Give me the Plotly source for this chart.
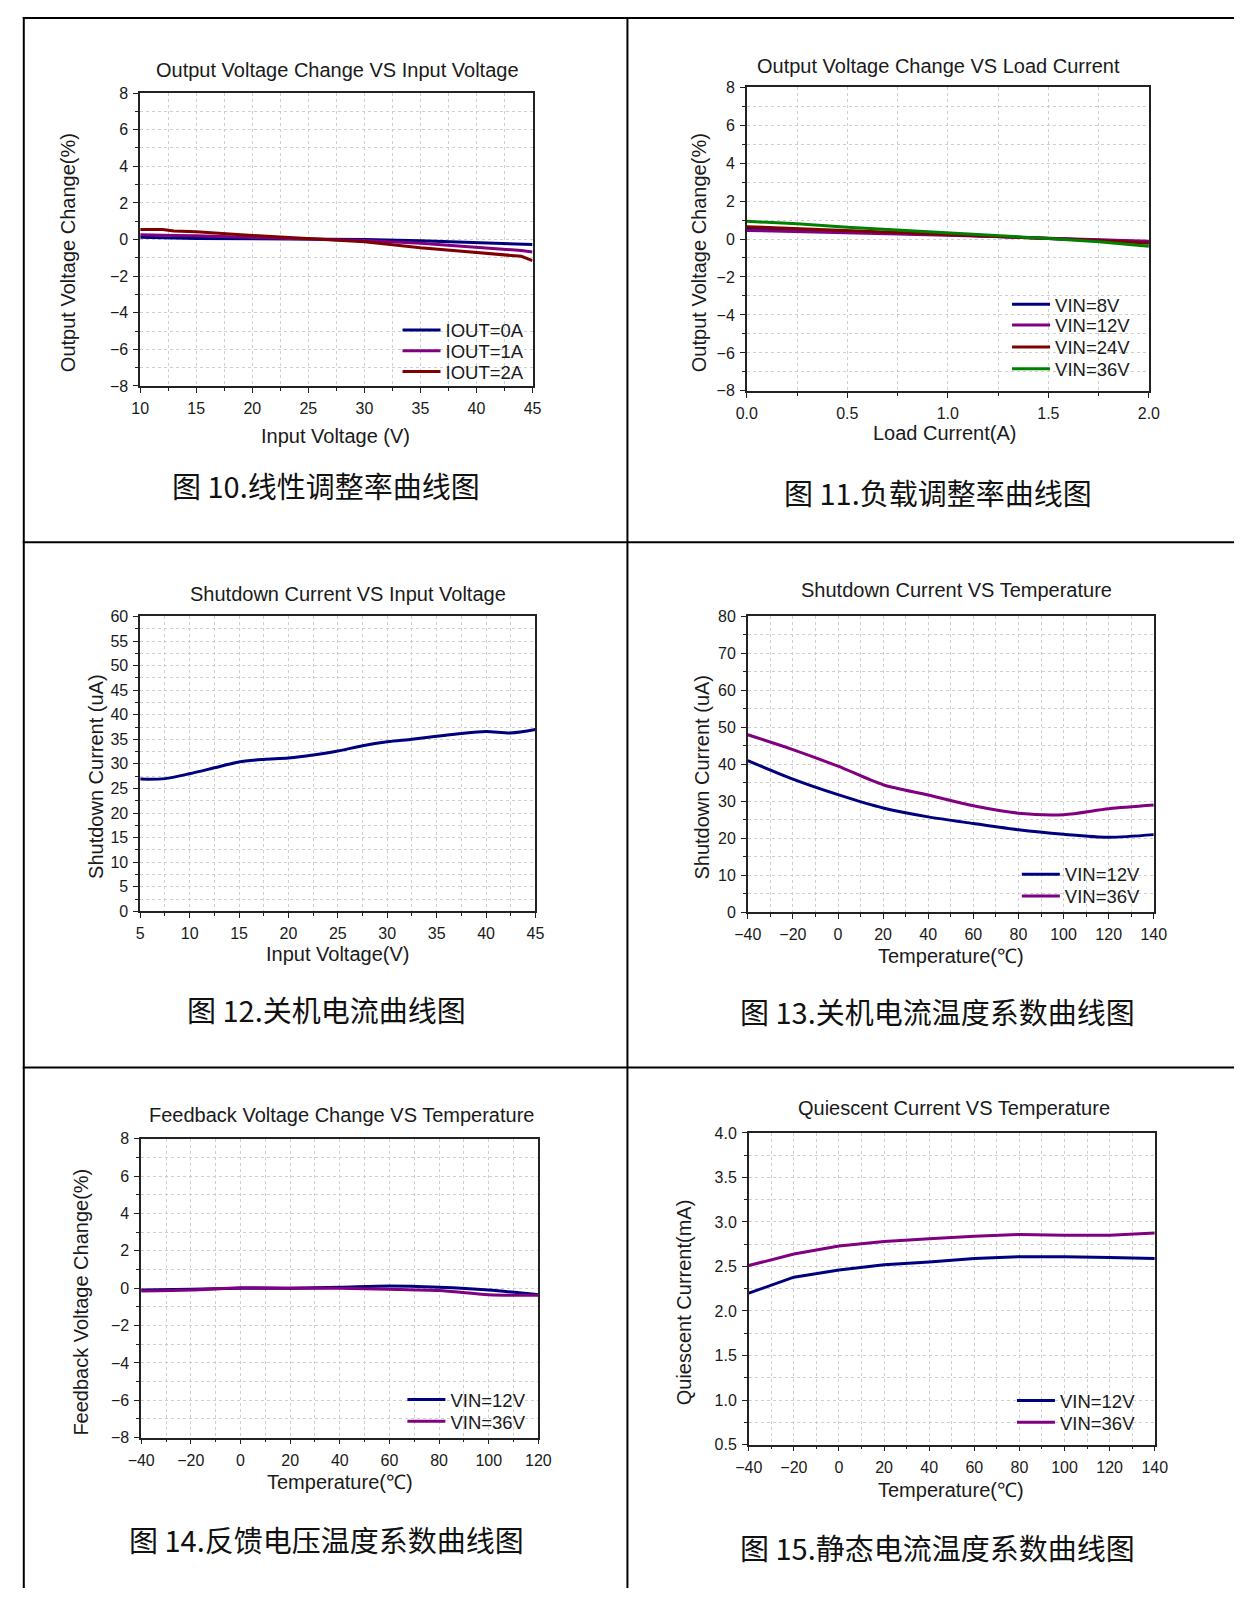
import plotly.graph_objects as go

W, H = 1248, 1598

# ---------------- data ----------------
# Fig 10: Output voltage change vs input voltage
lr_vin = [10, 11, 12, 13, 15, 20, 25, 30, 35, 40, 44, 45]
lr_iout0 = [0.12, 0.12, 0.10, 0.08, 0.06, 0.05, 0.03, 0.00, -0.07, -0.16, -0.24, -0.27]
lr_iout1 = [0.26, 0.26, 0.25, 0.22, 0.20, 0.13, 0.05, -0.05, -0.20, -0.40, -0.60, -0.68]
lr_iout2 = [0.55, 0.56, 0.55, 0.47, 0.42, 0.22, 0.05, -0.12, -0.45, -0.72, -0.92, -1.15]

# Fig 11: Output voltage change vs load current
ld_iout = [0.0, 0.25, 0.5, 0.75, 1.0, 1.25, 1.5, 1.75, 2.0]
ld_vin8 = [0.55, 0.48, 0.40, 0.31, 0.22, 0.13, 0.04, -0.06, -0.16]
ld_vin12 = [0.45, 0.40, 0.33, 0.27, 0.20, 0.12, 0.03, -0.05, -0.12]
ld_vin24 = [0.65, 0.55, 0.45, 0.35, 0.25, 0.15, 0.05, -0.08, -0.22]
ld_vin36 = [0.93, 0.80, 0.62, 0.48, 0.33, 0.18, 0.03, -0.15, -0.38]

# Fig 12: Shutdown current vs input voltage
sd_vin = [5, 7.5, 10, 12.5, 15, 17.5, 20, 22.5, 25, 27.5, 30, 32.5, 35, 37.5, 40, 42.5, 45]
sd_cur = [26.9, 27.0, 28.0, 29.2, 30.4, 30.9, 31.2, 31.8, 32.6, 33.7, 34.5, 35.0, 35.6, 36.2, 36.6, 36.3, 37.0]

# Fig 13: Shutdown current vs temperature
st_temp = [-40, -20, 0, 20, 40, 60, 80, 100, 120, 140]
st_vin12 = [41.0, 36.0, 31.8, 28.2, 25.8, 24.0, 22.3, 21.1, 20.3, 21.0]
st_vin36 = [48.0, 44.0, 39.5, 34.5, 31.7, 28.8, 26.8, 26.4, 28.0, 29.0]

# Fig 14: Feedback voltage change vs temperature
fb_temp = [-40, -20, 0, 20, 40, 60, 80, 100, 120]
fb_vin12 = [-0.10, -0.05, 0.00, 0.00, 0.05, 0.12, 0.05, -0.10, -0.35]
fb_vin36 = [-0.15, -0.10, 0.02, 0.00, 0.00, -0.05, -0.12, -0.35, -0.38]

# Fig 15: Quiescent current vs temperature
q_temp = [-40, -20, 0, 20, 40, 60, 80, 100, 120, 140]
q_vin12 = [2.20, 2.38, 2.46, 2.52, 2.55, 2.59, 2.61, 2.61, 2.60, 2.59]
q_vin36 = [2.51, 2.64, 2.73, 2.78, 2.81, 2.84, 2.86, 2.85, 2.85, 2.875]

# text
titles = ["Output Voltage Change VS Input Voltage", "Output Voltage Change VS Load Current",
          "Shutdown Current VS Input Voltage", "Shutdown Current VS Temperature",
          "Feedback Voltage Change VS Temperature", "Quiescent Current VS Temperature"]
xtitles = ["Input Voltage (V)", "Load Current(A)", "Input Voltage(V)",
           "Temperature(℃)", "Temperature(℃)", "Temperature(℃)"]
ytitles = ["Output Voltage Change(%)", "Output Voltage Change(%)", "Shutdown Current (uA)",
           "Shutdown Current (uA)", "Feedback Voltage Change(%)", "Quiescent Current(mA)"]
captions = ["图 10.线性调整率曲线图", "图 11.负载调整率曲线图", "图 12.关机电流曲线图",
            "图 13.关机电流温度系数曲线图", "图 14.反馈电压温度系数曲线图", "图 15.静态电流温度系数曲线图"]

NAVY, PURPLE, DRED, GREEN = "#00007f", "#800080", "#7f0000", "#008000"
LATIN = "Liberation Sans, Arial, sans-serif"
CJK = "Noto Sans CJK SC"
TXT = "#1a1a1a"

def px(x):
    return x / W

def py(y):
    return 1 - y / H

# plot areas in pixels: (x0, x1, y0(top), y1(bottom))
boxes = [(129, 530, 86, 382), (749, 1160, 80, 387), (129, 533, 615, 913),
         (750, 1165, 615, 914), (130, 536, 1143, 1445), (751, 1166, 1137, 1452)]

xcfg = [dict(range=[10, 45], dtick=5, minor=2.5, fmt=None),
        dict(range=[0, 2], dtick=0.5, minor=0.25, fmt=".1f"),
        dict(range=[5, 45], dtick=5, minor=2.5, fmt=None),
        dict(range=[-40, 140], dtick=20, minor=10, fmt=None),
        dict(range=[-40, 120], dtick=20, minor=10, fmt=None),
        dict(range=[-40, 140], dtick=20, minor=10, fmt=None)]
ycfg = [dict(range=[-8, 8], dtick=2, minor=1, fmt=None),
        dict(range=[-8, 8], dtick=2, minor=1, fmt=None),
        dict(range=[0, 60], dtick=5, minor=2.5, fmt=None),
        dict(range=[0, 80], dtick=10, minor=5, fmt=None),
        dict(range=[-8, 8], dtick=2, minor=1, fmt=None),
        dict(range=[0.5, 4.0], dtick=0.5, minor=0.25, fmt=".1f")]

fig = go.Figure()

# legend item positions: (line start x px, row center y px)
legend_rows = []

def add(i, x, y, name, color, row=None, shape="linear"):
    leg = None
    if row is not None:
        legend_rows.append(row)
        n = len(legend_rows)
        leg = "legend" if n == 1 else f"legend{n}"
    fig.add_trace(go.Scatter(
        x=x, y=y, name=name, mode="lines",
        line=dict(color=color, width=3, shape=shape, smoothing=0.8),
        xaxis="x" if i == 0 else f"x{i+1}", yaxis="y" if i == 0 else f"y{i+1}",
        showlegend=leg is not None, legend=leg if leg else "legend"))

add(0, lr_vin, lr_iout0, "IOUT=0A", NAVY, (400, 326))
add(0, lr_vin, lr_iout1, "IOUT=1A", PURPLE, (400, 347))
add(0, lr_vin, lr_iout2, "IOUT=2A", DRED, (400, 368))

add(1, ld_iout, ld_vin8, "VIN=8V", NAVY, (1023, 300))
add(1, ld_iout, ld_vin12, "VIN=12V", PURPLE, (1023, 321))
add(1, ld_iout, ld_vin24, "VIN=24V", DRED, (1023, 343))
add(1, ld_iout, ld_vin36, "VIN=36V", GREEN, (1023, 365))

add(2, sd_vin, sd_cur, "Shutdown", NAVY, None, "spline")

add(3, st_temp, st_vin12, "VIN=12V", NAVY, (1033, 876), "spline")
add(3, st_temp, st_vin36, "VIN=36V", PURPLE, (1033, 898), "spline")

add(4, fb_temp, fb_vin12, "VIN=12V", NAVY, (405, 1407), "spline")
add(4, fb_temp, fb_vin36, "VIN=36V", PURPLE, (405, 1429), "spline")

add(5, q_temp, q_vin12, "VIN=12V", NAVY, (1028, 1408))
add(5, q_temp, q_vin36, "VIN=36V", PURPLE, (1028, 1430))

layout = dict(
    width=W, height=H, margin=dict(l=0, r=0, t=0, b=0),
    paper_bgcolor="white", plot_bgcolor="white",
    font=dict(family=LATIN, color=TXT, size=16),
)

def axis_common(cfg):
    d = dict(range=cfg["range"], dtick=cfg["dtick"], tick0=cfg["range"][0],
             showline=True, linecolor="#222", linewidth=1.5, mirror=True,
             ticks="outside", ticklen=5, tickwidth=1, tickcolor="#222",
             showgrid=True, gridcolor="#cfcfcf", griddash="dot", gridwidth=1,
             zeroline=False, tickfont=dict(size=16, color=TXT, family=LATIN),
             minor=dict(dtick=cfg["minor"], ticks="outside", ticklen=3, tickcolor="#222",
                        showgrid=True, gridcolor="#cfcfcf", griddash="dot", gridwidth=1),
             fixedrange=True)
    if cfg["fmt"]:
        d["tickformat"] = cfg["fmt"]
    return d

for i, (x0, x1, y0, y1) in enumerate(boxes):
    xa = axis_common(xcfg[i])
    xa.update(domain=[px(x0), px(x1)], anchor="y" if i == 0 else f"y{i+1}", ticklabelstandoff=2)
    ya = axis_common(ycfg[i])
    ya.update(domain=[py(y1), py(y0)], anchor="x" if i == 0 else f"x{i+1}", ticklabelstandoff=2)
    layout["xaxis" if i == 0 else f"xaxis{i+1}"] = xa
    layout["yaxis" if i == 0 else f"yaxis{i+1}"] = ya

for n, (lx, ly) in enumerate(legend_rows, start=1):
    key = "legend" if n == 1 else f"legend{n}"
    layout[key] = dict(x=px(lx - 8), y=py(ly), xanchor="left", yanchor="middle",
                       bgcolor="rgba(0,0,0,0)", borderwidth=0, tracegroupgap=0,
                       font=dict(size=18.5, family=LATIN, color=TXT), itemwidth=38)

fig.update_layout(**layout)

ann = []
title_pos = [(331, 63), (945, 59), (341, 592), (963, 588), (335, 1119), (961, 1112)]
xt_pos = [(329, 433), (951, 430), (331, 956), (958, 958), (333, 1490), (958, 1498)]
yt_pos = [(56, 247), (701, 247), (84, 777), (703, 777), (69, 1308), (685, 1308)]
cap_pos = [(319, 482), (944, 489), (319, 1012), (944, 1014), (319, 1547), (944, 1556)]
for i in range(6):
    ann.append(dict(text=titles[i], x=px(title_pos[i][0]), y=py(title_pos[i][1]), xref="paper", yref="paper",
                    showarrow=False, xanchor="center", yanchor="middle", font=dict(size=20, family=LATIN, color=TXT)))
    ann.append(dict(text=xtitles[i], x=px(xt_pos[i][0]), y=py(xt_pos[i][1]), xref="paper", yref="paper",
                    showarrow=False, xanchor="center", yanchor="middle", font=dict(size=20, family=LATIN, color=TXT)))
    ann.append(dict(text=ytitles[i], x=px(yt_pos[i][0]), y=py(yt_pos[i][1]), xref="paper", yref="paper",
                    showarrow=False, xanchor="center", yanchor="middle", textangle=-90,
                    font=dict(size=20, family=LATIN, color=TXT)))
    ann.append(dict(text=captions[i], x=px(cap_pos[i][0]), y=py(cap_pos[i][1]), xref="paper", yref="paper",
                    showarrow=False, xanchor="center", yanchor="middle", font=dict(size=29, family=CJK, color="#111")))
fig.update_layout(annotations=ann)

# table frame lines
shapes = []
def hline(y, x0=9, x1=1247):
    shapes.append(dict(type="line", xref="paper", yref="paper", x0=px(x0), x1=px(x1), y0=py(y), y1=py(y),
                       line=dict(color="black", width=2)))
def vline(x, y0=9, y1=1597):
    shapes.append(dict(type="line", xref="paper", yref="paper", x0=px(x), x1=px(x), y0=py(y0), y1=py(y1),
                       line=dict(color="black", width=2)))
hline(10)
hline(540)
hline(1071)
vline(10)
vline(627)
fig.update_layout(shapes=shapes)

post = ("document.documentElement.style.margin='0';document.documentElement.style.padding='0';"
        "document.documentElement.style.overflow='hidden';"
        "document.body.style.margin='0';document.body.style.padding='0';document.body.style.overflow='hidden';"
        "var d=document.getElementById('{plot_id}');d.style.position='absolute';d.style.left='0px';d.style.top='0px';")
fig.write_html("out.html", config={"displayModeBar": False}, post_script=post)
